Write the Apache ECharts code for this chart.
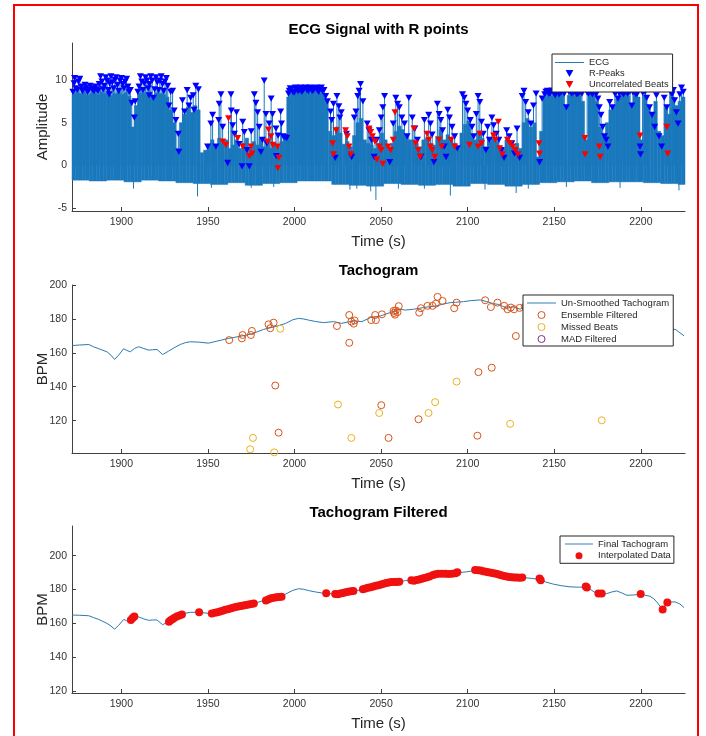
<!DOCTYPE html>
<html>
<head>
<meta charset="utf-8">
<script src="https://cdn.jsdelivr.net/npm/echarts@6/dist/echarts.min.js"></script>
<style>
  html, body { margin: 0; padding: 0; background: #fff; }
  #chart { width: 706px; height: 736px; }
</style>
</head>
<body>
<div id="chart"></div>
<script>
// tick labels
const xTicks = [1900, 1950, 2000, 2050, 2100, 2150, 2200]
const ampTicks = [-5, 0, 5, 10]
const bpmTicks = [120, 140, 160, 180, 200]

// ECG envelope: top of the dense trace per 2 s bin, starting at 1871.5 s
const ecgBinStart = 1871.5
const ecgBinWidth = 2
const ecgTop = [
  8.3, 8.5, 8.4, 8.6, 8.2, 8.4, 8.5, 8.3, 8.6, 8.4, 8.5, 8.2, 8.4, 8.6, 8.3, 8.5, 8.1,
  4.5, 7.0,
  8.4, 8.5, 8.3, 8.6, 8.2, 8.5, 8.4, 8.3, 8.0,
  6.5, 5.0, 2.0, 5.0, 6.0, 6.8, 6.2, 7.0, 6.5, 1.5, 1.8,
  2.5, 3.0, 2.2, 3.2, 2.6, 3.0, 2.0, 2.4, 3.0, 2.0, 2.6, 3.2, 2.0, 2.8, 2.4, 3.2, 2.2, 2.8, 2.0, 2.6, 2.2, 2.8,
  3.5, 8.0,
  8.6, 8.7, 8.8, 8.6, 8.7, 8.8, 8.6, 8.7, 8.5,
  8.3, 7.5, 4.0,
  3.5, 4.5, 3.8, 2.5, 2.8, 2.2, 3.5, 5.0, 5.5, 3.0,
  2.6, 2.4, 2.0, 2.6, 3.8, 3.0, 2.0, 2.6, 4.0, 4.6,
  4.2, 3.4, 3.0, 3.0, 2.6, 2.2, 3.0, 3.2, 2.6, 2.4,
  3.4, 4.2, 3.0, 3.6, 3.2, 2.6, 2.2, 3.8, 4.8, 5.2,
  3.6, 3.0, 4.0, 3.2, 2.2, 2.8, 3.2, 2.8, 2.2, 2.0,
  3.0, 2.6, 2.2, 2.6, 2.0, 5.0, 5.5, 4.5, 5.0, 1.0,
  4.0,
  8.0, 8.3, 8.2, 8.4, 8.2, 8.3, 7.0, 8.2, 8.4, 8.2,
  8.3, 7.5, 3.0, 8.3, 8.2, 7.5, 4.5, 3.5, 5.0, 6.5,
  7.0, 7.8, 8.2, 8.3, 8.1, 7.2, 8.2, 8.0, 3.0, 8.2,
  7.0, 6.0, 7.5, 4.0, 3.5, 7.0, 6.0, 8.0, 7.0, 7.5,
  8.0
]
// ECG trough per 10 s block
const ecgBottom = [
  -1.7, -1.8, -1.7, -1.9, -1.7, -1.8, -2.0, -2.1, -2.2, -2.0,
  -2.3, -2.1, -2.0, -1.8, -1.8, -2.2, -2.3, -2.4, -2.1, -2.2,
  -2.3, -2.2, -2.4, -2.1, -2.2, -2.4, -2.2, -2.0, -1.9, -1.8,
  -2.0, -1.9, -1.9, -2.0, -2.1, -2.2
]
// deeper downward swings of the ECG
const ecgDips = [
  [1907, -2.7], [1944, -3.6], [1952, -2.6], [1975, -2.6], [1988, -2.5], [2032, -2.8],
  [2036, -2.7], [2044, -3.0], [2047, -4.0], [2060, -2.7], [2075, -2.7], [2090, -3.5],
  [2110, -2.8], [2128, -3.2], [2135, -2.7], [2157, -2.5], [2188, -2.6], [2222, -2.9]
]

const rPeaks = [
  [1872, 8.6], [1872.7, 9.6], [1873, 10.2], [1873.7, 9.0], [1874.5, 8.8], [1875.2, 9.8], [1876, 10.1],
  [1876.8, 9.2], [1877.5, 8.7], [1878.2, 8.9], [1879, 9.4], [1879.8, 9.1], [1880.5, 8.6], [1881.2, 8.8],
  [1882, 9.3], [1882.8, 9.0], [1883.5, 8.8], [1884.2, 8.7], [1885, 9.2], [1885.8, 8.9], [1886.5, 8.7],
  [1887.2, 9.5], [1888, 10.4], [1888.8, 9.8], [1889.5, 8.9], [1890.2, 9.3], [1891, 10.3], [1891.8, 9.9],
  [1892.5, 8.8], [1893, 8.3], [1893.2, 9.6], [1894, 10.4], [1894.8, 9.7], [1895.5, 9.0], [1896.2, 10.0],
  [1897, 10.3], [1897.8, 9.4], [1898.5, 8.7], [1899.2, 9.9], [1900, 10.2], [1900.8, 9.5], [1901.5, 9.0],
  [1902.2, 9.8], [1903, 10.1], [1903.8, 9.2], [1904.5, 8.6], [1905.2, 8.8], [1906, 7.3], [1907.5, 5.6],
  [1908, 7.5], [1909.5, 8.6], [1910.2, 9.2], [1911, 10.4], [1911.8, 9.8], [1912.5, 8.8], [1913.2, 9.6],
  [1914, 10.3], [1914.8, 9.9], [1915.5, 9.0], [1916, 8.2], [1916.2, 9.5], [1917, 10.4], [1917.8, 9.9],
  [1918.5, 7.9], [1919.2, 8.9], [1920, 10.3], [1920.8, 9.7], [1921.5, 8.8], [1922.2, 9.9], [1923, 10.4],
  [1923.8, 9.5], [1924.5, 8.7], [1925.2, 9.8], [1926, 10.2], [1926.8, 9.3], [1927.5, 7.0], [1928.5, 8.6],
  [1929.6, 8.7], [1930.5, 6.4], [1931.5, 5.3], [1932.9, 3.7], [1933.2, 1.6], [1935.3, 7.6], [1936.5, 6.3],
  [1938, 8.8], [1939, 7.0], [1940, 7.9], [1941.5, 8.2], [1942, 6.5], [1943, 9.3], [1944.5, 8.9],
  [1949.8, 2.2], [1951.7, 4.9], [1952.7, 5.9], [1954.6, 2.2], [1956.2, 5.3], [1956.5, 7.2], [1957.5, 8.3],
  [1958.5, 4.5], [1961.4, 0.3], [1963.3, 8.3], [1963.5, 6.4], [1964.3, 4.7], [1965.3, 3.7], [1966.5, 6.2],
  [1968, 2.5], [1969.7, -0.1], [1970.1, 5.1], [1971, 3.9], [1972.5, 1.8], [1973.9, -0.1], [1975, 4.0],
  [1976.8, 8.3], [1977.7, 7.3], [1978.7, 6.2], [1979.6, 4.5], [1980.6, 1.6], [1981.5, 3.0], [1982.5, 9.9],
  [1983.5, 6.0], [1984, 2.6], [1985.4, 4.9], [1986.5, 7.8], [1987.3, 6.0], [1989.3, 4.3], [1989.5, 1.1],
  [1990.5, 3.5], [1992, 6.3], [1992.5, 4.9], [1993.5, 3.4], [1994.5, 3.3], [1995.5, 3.2],
  [1996.5, 8.4], [1997, 8.7], [1997.5, 9.0], [1998.2, 8.9], [1999, 8.6], [1999.8, 8.5], [2000.5, 9.1],
  [2001.2, 8.9], [2002, 8.7], [2002.8, 8.8], [2003.5, 9.1], [2004.2, 8.6], [2005, 8.8], [2005.8, 9.0],
  [2006.5, 9.1], [2007.2, 8.8], [2008, 8.7], [2008.8, 9.1], [2009.5, 9.0], [2010.2, 8.7], [2011, 8.8],
  [2011.8, 9.0], [2012.5, 9.1], [2013.2, 8.8], [2014, 8.6], [2014.8, 9.0], [2015.5, 9.1], [2016.2, 8.7],
  [2017, 8.8], [2018, 8.1], [2019, 7.5],
  [2020.8, 6.3], [2021.5, 5.3], [2022.5, 7.2], [2023.5, 0.9], [2024.5, 8.1], [2025.6, 6.9], [2026.2, 5.6],
  [2027, 6.2], [2030, 3.7], [2033, 1.0], [2034.5, 5.6], [2035.5, 6.3], [2036.5, 8.1], [2037.3, 8.7],
  [2038.1, 9.5], [2039.5, 7.5], [2042, 4.9], [2043, 4.1], [2044.5, 3.0], [2046, 1.0], [2047.5, 3.0],
  [2049, 4.1], [2050, 5.6], [2051, 6.8], [2052, 8.1], [2055, 0.4], [2057, 4.9], [2058.5, 7.9],
  [2059.5, 7.2], [2060.5, 6.8], [2062, 5.6], [2063.5, 4.9], [2065, 3.4], [2066, 7.9], [2068, 5.6],
  [2069.5, 4.3], [2071, 3.0], [2073, 1.0], [2075, 5.3], [2077.5, 5.9], [2078.5, 4.9], [2079.5, 3.6],
  [2080.5, 0.4], [2082.5, 7.2], [2083.5, 6.0], [2084.5, 5.3], [2085.5, 4.1], [2086.5, 2.2], [2087.5, 1.0],
  [2088.5, 6.5], [2089.5, 5.6], [2091, 4.5], [2092.5, 3.4], [2094, 2.0], [2097, 8.3], [2098, 7.9],
  [2099, 7.2], [2100, 6.4], [2101.5, 5.3], [2102.5, 4.5], [2103.5, 3.4], [2105, 6.0], [2106, 8.1],
  [2107, 7.4], [2108, 5.1], [2109, 3.7], [2110.5, 1.8], [2111.5, 4.5], [2112.5, 3.0], [2114, 5.6],
  [2115, 4.7], [2116.5, 3.7], [2118, 3.0], [2119.5, 1.8], [2121, 0.9], [2122.5, 4.1], [2124, 3.4],
  [2125.5, 2.6], [2127, 1.4], [2128.5, 4.3], [2130, 0.9], [2131.5, 8.1], [2132.5, 8.7], [2133.5, 7.4],
  [2135, 6.2], [2136.5, 4.9], [2138, 7.0], [2139.5, 8.4], [2141.5, 0.4], [2143, 7.8],
  [2144.5, 8.3], [2145.2, 8.6], [2146, 8.7], [2146.8, 8.4], [2147.5, 8.4], [2148.2, 8.7], [2149, 8.7],
  [2149.8, 8.5], [2150.5, 8.2], [2151.2, 8.6], [2152, 8.7], [2152.8, 8.3], [2153.5, 8.5], [2154.2, 8.6],
  [2155, 8.7], [2155.8, 8.4], [2157, 6.8], [2158.5, 8.6], [2159.2, 8.7], [2160, 8.4], [2160.8, 8.5],
  [2161.5, 8.7], [2162.2, 8.6], [2163, 8.3], [2163.8, 8.4], [2164.5, 8.6], [2165.2, 8.7], [2166, 8.4],
  [2169, 8.5], [2169.8, 8.4], [2170.5, 8.7], [2171.2, 8.6], [2172, 8.3], [2172.8, 8.7], [2173.5, 8.6],
  [2174.2, 8.3], [2175.2, 7.8], [2176, 6.8], [2177, 5.9], [2178, 4.5], [2179, 3.4], [2180, 3.0],
  [2181, 2.2], [2182, 7.4], [2183.5, 6.8], [2185, 8.4], [2185.8, 8.6], [2186.8, 7.8], [2187.5, 8.4],
  [2188.5, 8.6], [2189.2, 8.5], [2190, 8.3], [2190.8, 8.6], [2191.5, 8.7], [2192.2, 8.4], [2193, 8.5],
  [2193.8, 8.7], [2194.8, 7.0], [2195.5, 8.5], [2196.5, 8.6], [2197.2, 8.3], [2198, 8.4], [2199.5, 2.2],
  [2199.8, 1.3], [2201, 8.5], [2201.8, 8.7], [2202.5, 8.6], [2203.4, 7.9], [2205, 6.8], [2206.5, 5.9],
  [2208, 4.5], [2209, 8.2], [2210.5, 3.4], [2212, 2.2], [2213.5, 7.9], [2215, 6.8], [2216.7, 8.9],
  [2217.2, 8.6], [2218, 8.3], [2218.8, 8.8], [2219.5, 7.6], [2220.5, 6.2], [2221.5, 4.9], [2222.5, 8.3],
  [2223.5, 9.1], [2224.5, 8.6]
]

const uncorrelatedBeats = [
  [1958.5, 2.8], [1960.4, 2.4], [1961.9, 5.5], [1967.2, 3.2], [1970.1, 2.2], [1973.9, 1.1], [1974.9, 2.2],
  [1975.5, 1.4], [1984.4, 2.8], [1985, 4.2], [1986.4, 3.4], [1987.5, 2.4], [1990.2, 2.2], [1990.4, -0.3],
  [1991, 0.9],
  [2022, 2.6], [2022.5, 1.3], [2024, 4.1], [2029.5, 4.1], [2030.5, 3.4], [2031.5, 2.2], [2032.5, 1.3],
  [2043, 4.3], [2044, 3.9], [2045, 3.4], [2046.5, 2.8], [2047.5, 0.7], [2049, 2.2], [2050, 1.8],
  [2051, 0.2], [2054, 2.2], [2055.5, 1.8], [2057, 3.0], [2058, 6.2], [2069, 4.3], [2070, 2.6],
  [2071.5, 1.8], [2072.5, 1.0], [2076.5, 3.7], [2077.5, 3.0], [2078.5, 2.2], [2079.5, 1.8], [2081, 1.0],
  [2083.5, 3.0], [2085, 2.2], [2090.5, 3.0], [2092.5, 2.2], [2101, 2.4], [2106, 2.2], [2107, 3.7],
  [2108, 2.6], [2115, 3.5], [2116, 3.0], [2117.7, 5.1], [2118.5, 2.0], [2120, 1.3], [2123, 3.0],
  [2124.5, 2.6], [2126, 2.2], [2127.5, 1.8], [2129, 1.3], [2141.2, 2.6], [2141.5, 1.4],
  [2167.6, 3.2], [2167.8, 1.3], [2176, 2.2], [2176.5, 1.0], [2199.5, 3.5], [2215, 4.5], [2215.5, 1.4]
]

// tachogram (time s, BPM)
const tachogram = [
  [1871.6, 164.3], [1876, 164.6], [1881.2, 164.9], [1884, 163.5], [1887, 162.4], [1891.7, 160.6],
  [1894, 158.6], [1896.1, 156.1], [1898.5, 158.7], [1901.3, 162.4], [1903, 161.5], [1905.2, 160.6],
  [1907.5, 162.5], [1910, 163.6], [1913, 162.5], [1915.8, 161.6], [1918, 161.8], [1920.6, 162],
  [1923.8, 159], [1927.3, 161], [1930.5, 163], [1934, 164.9], [1937, 166], [1939.8, 166.5],
  [1944.6, 166.3], [1950.4, 165.7], [1955.2, 166.9], [1961.9, 168.5], [1969.6, 169.9], [1975.4, 171.2],
  [1982.1, 173.8], [1987.9, 175.2], [1994.6, 177.2], [1999, 179.5], [2002.3, 180.3], [2005, 180],
  [2008.1, 179.3], [2012, 178.5], [2016.7, 177.8], [2022.5, 178.4], [2027.3, 177.4], [2031, 178.2],
  [2035, 178.8], [2038.9, 178.4], [2043.7, 180.7], [2049.5, 181.7], [2052.3, 182.7], [2056, 184],
  [2061, 185.7], [2064, 185.2], [2068.7, 185.7], [2074.5, 186.7], [2078, 187.2], [2082.2, 187.7],
  [2086, 188.8], [2089.9, 189.6], [2093, 189.8], [2097.6, 190.2], [2102, 190.8], [2107.2, 191.2],
  [2111, 190.2], [2114.9, 189], [2118, 188.5], [2122.6, 186.3], [2126.4, 187.1], [2130.3, 185.7],
  [2132.2, 187.1], [2137, 186.5], [2141.8, 185.9], [2145, 184.5], [2149.5, 183.2], [2154, 182.3],
  [2159.1, 181.6], [2164, 181.4], [2168.8, 181.6], [2171, 180], [2174.5, 177.6], [2177, 177.3],
  [2180.3, 177.6], [2183, 178.5], [2186.1, 179.2], [2189, 178], [2191.9, 176.6], [2196, 176.8],
  [2199.5, 177.2], [2202, 176.8], [2205.3, 176], [2207.5, 174.5], [2209.2, 172.7], [2212.6, 168.2],
  [2215.3, 172.7], [2219.8, 173.9], [2225, 170]
]
const ensembleFiltered = [
  [1962.3, 167.5], [1969.6, 168.5], [1970, 170.5], [1974.8, 170.5], [1975.4, 172.9], [1985, 176.8],
  [1986, 174.5], [1987.9, 177.8], [1988.9, 140.7], [1990.8, 112.9], [2024.5, 175.8], [2031.6, 182.3],
  [2031.6, 165.9], [2032.8, 178.4], [2034.2, 177.2], [2034.7, 179.1], [2044.3, 179.3], [2046.6, 182.3],
  [2047, 179.3], [2050.1, 129.1], [2050.5, 182.7], [2054.3, 109.8], [2057.2, 184.7], [2057.5, 183.5],
  [2058, 182.5], [2058.5, 185], [2059.5, 184], [2060.2, 187.5], [2071.6, 120.8], [2072, 183.7],
  [2073, 186.3], [2076.8, 187.7], [2079.7, 187.7], [2081.6, 189], [2082.6, 193], [2085.5, 190.6],
  [2092.2, 186.3], [2093.6, 189.6], [2105.6, 111.1], [2106.2, 148.6], [2110.1, 191], [2113.4, 187],
  [2113.9, 151.2], [2117.2, 189.6], [2121.1, 187.7], [2123, 185.7], [2124.9, 186.7], [2126.8, 185.7],
  [2127.8, 169.9], [2130, 186.5], [2133, 187.2]
]
const missedBeats = [
  [1974.4, 103.1], [1976, 109.8], [1988.3, 101.3], [1991.8, 174.2], [2025.1, 129.5], [2032.8, 109.8],
  [2048.9, 124.5], [2077.4, 124.5], [2081.2, 130.9], [2093.6, 143], [2124.5, 118.1], [2177.4, 120.2]
]
const madFiltered = []

const finalTachogram = [
  [1871.6, 164.9], [1876, 164.8], [1881.2, 164.5], [1884, 163.4], [1887, 162.3], [1891.7, 160],
  [1894, 158.4], [1896.1, 156.6], [1898.5, 158.9], [1901.3, 162.3], [1903, 161.6], [1905.2, 161.2],
  [1907.5, 163], [1910, 163.8], [1913, 162.6], [1915.8, 161.8], [1918, 162], [1920.6, 162],
  [1923.8, 159.2], [1927.3, 161], [1930.5, 163.2], [1934, 165], [1937, 166], [1939.8, 166.5],
  [1944.6, 166.6], [1950.4, 165.9], [1955.2, 166.7], [1961.9, 168.5], [1969.6, 170.3], [1975.4, 171.4],
  [1982.1, 173.5], [1987.9, 175.2], [1994.6, 177.2], [1999, 179.5], [2002.3, 180.5], [2005, 180.2],
  [2008.1, 179.4], [2012, 178.6], [2016.7, 177.8], [2022.5, 177.4], [2027.3, 177.7], [2031, 178.7],
  [2035, 179.3], [2038.9, 179.8], [2043.7, 181.2], [2049.5, 182.6], [2056, 184.3], [2061, 184.6],
  [2064, 185.3], [2068.7, 185.6], [2074.5, 186.9], [2080.2, 189.1], [2086, 189.3], [2093.7, 189.9],
  [2099.5, 190.5], [2105.2, 191.5], [2110, 190.6], [2116.8, 189.1], [2121, 188], [2126.4, 187.1],
  [2132.2, 187.1], [2137, 186.6], [2141.8, 185.9], [2145, 184.5], [2149.5, 183.2], [2154, 182.3],
  [2159.1, 181.6], [2164, 181.4], [2168.8, 181.6], [2171, 180], [2174.5, 177.6], [2177, 177.3],
  [2180.3, 177.6], [2183, 178.5], [2186.1, 179.2], [2189, 178], [2191.9, 176.6], [2196, 176.8],
  [2199.5, 177.2], [2202, 176.8], [2205.3, 176], [2207.5, 174.5], [2209.2, 172.7], [2212.6, 168.2],
  [2215.3, 172.7], [2219.8, 172.7], [2222.5, 171.5], [2225, 169.3]
]
const interpolatedData = [
  [1905.5, 162], [1906.5, 163.2], [1907.5, 164],
  [1927.5, 161], [1928.5, 161.8], [1929.5, 162.5], [1930.5, 163.2], [1932, 164], [1933.5, 164.7], [1935, 165.3],
  [1944.9, 166.6],
  [1952.2, 165.8], [1954, 166.3], [1955.5, 166.6], [1957, 167], [1958.5, 167.5], [1960, 168], [1961.5, 168.4],
  [1963, 168.8], [1964.5, 169.2], [1966, 169.7], [1967.5, 170], [1969, 170.3], [1970.5, 170.6], [1972, 170.9],
  [1973.5, 171.1], [1975, 171.4], [1976.5, 171.8],
  [1983.5, 173.5], [1985, 174.2], [1986.5, 174.8], [1988, 175.2], [1989.5, 175.4], [1991, 175.6], [1992.5, 175.8],
  [2018.3, 177.8],
  [2023.5, 177.4], [2025, 177.2], [2026.5, 177.6], [2028, 178], [2029.5, 178.4], [2031, 178.7], [2032.5, 179],
  [2034, 179.2],
  [2039.5, 180.2], [2041, 180.6], [2042.5, 181], [2044, 181.4], [2045.5, 181.8], [2047, 182.2], [2048.5, 182.5],
  [2050, 183], [2051.5, 183.4], [2053, 183.9], [2054.5, 184.2], [2056, 184.4], [2057.5, 184.4], [2059, 184.5],
  [2060.5, 184.6],
  [2067.5, 185.5], [2069, 185.2], [2070.5, 185.7], [2072, 186], [2073.5, 186.4], [2075, 186.9], [2076.5, 187.3],
  [2078, 187.7],
  [2080, 188.6], [2081.5, 189.1], [2083, 189.3], [2085, 189.4], [2087, 189.3], [2089, 189.2], [2091, 189.4],
  [2093, 189.6], [2094, 190.2],
  [2104.3, 191.5], [2106, 191.4], [2107.5, 191.2], [2109, 190.8], [2110.5, 190.5], [2112, 190.2], [2113.5, 189.9],
  [2115, 189.6], [2116.5, 189.3], [2118, 188.9], [2119.5, 188.5], [2121, 188], [2122.5, 187.7], [2124, 187.5],
  [2125.5, 187.3], [2127, 187.2], [2128.5, 187.1], [2130, 187], [2131.5, 187.1],
  [2141.5, 186.5], [2142.2, 185.5],
  [2168.2, 181.8], [2168.8, 181.2],
  [2175.5, 177.6], [2177.4, 177.6],
  [2199.9, 177.4],
  [2212.6, 168.2], [2215.3, 172.3]
]

const font = 'Liberation Sans, Arial, Helvetica, sans-serif'
const axisColor = '#404040'
const ecgColor = '#1a78bc'
const tachoColor = '#2a7ab0'
const downTriangle = 'path://M0,0 L10,0 L5,9 Z'
const lineIcon = 'path://M0,0 L30,0 L30,1 L0,1 Z'
const thinRing = { borderWidth: 1 }

// ECG band: one bar per bin from trough to top of the trace
const ecgBand = ecgTop.map((hi, i) => {
  const t0 = ecgBinStart + i * ecgBinWidth
  return [t0, t0 + ecgBinWidth, ecgBottom[Math.floor(i / 5)], hi]
})
// ECG spikes up to every detected beat (and the deep dips)
const ecgSpikes = []
rPeaks.concat(uncorrelatedBeats, ecgDips).forEach(([t, v]) => {
  ecgSpikes.push([t, 0], [t, v], [t, '-'])
})

const xAxisBase = (gridIndex) => ({
  type: 'value',
  gridIndex,
  min: 1871.5,
  max: 2225.5,
  name: 'Time (s)',
  nameLocation: 'middle',
  nameGap: 23,
  nameMoveOverlap: false,
  nameTextStyle: { fontFamily: font, fontSize: 15, color: '#262626' },
  axisLine: { onZero: false, lineStyle: { color: axisColor } },
  axisTick: { inside: true, length: 4, customValues: xTicks, lineStyle: { color: axisColor } },
  axisLabel: {
    customValues: xTicks, margin: 6, fontFamily: font, fontSize: 10.5, color: '#333',
    formatter: (v) => String(v)
  },
  splitLine: { show: false }
})
const yAxisBase = (gridIndex, name, min, max, ticks) => ({
  type: 'value',
  gridIndex,
  min,
  max,
  name,
  nameLocation: 'middle',
  nameGap: 22,
  nameMoveOverlap: false,
  nameTextStyle: { fontFamily: font, fontSize: 15, color: '#262626' },
  axisLine: { show: true, onZero: false, lineStyle: { color: axisColor } },
  axisTick: { show: true, inside: true, length: 4, customValues: ticks, lineStyle: { color: axisColor } },
  axisLabel: {
    customValues: ticks, margin: 5, fontFamily: font, fontSize: 10.5, color: '#333',
    formatter: (v) => String(v)
  },
  splitLine: { show: false }
})
const legendBase = {
  orient: 'vertical',
  selectedMode: false,
  borderColor: '#262626',
  borderWidth: 1,
  borderRadius: 0,
  backgroundColor: '#fff',
  itemHeight: 7,
  textStyle: { fontFamily: font, color: '#262626' }
}

const myChart = echarts.init(document.getElementById('chart'))
myChart.setOption({
  animation: false,
  backgroundColor: '#fff',
  graphic: [{
    type: 'rect',
    shape: { x: 14, y: 5, width: 684, height: 745 },
    style: { fill: 'none', stroke: '#ff0000', lineWidth: 2 },
    z: 100
  }],
  title: [
    { text: 'ECG Signal with R points', left: 378.5, top: 22, textAlign: 'center', padding: 0 },
    { text: 'Tachogram', left: 378.5, top: 263, textAlign: 'center', padding: 0 },
    { text: 'Tachogram Filtered', left: 378.5, top: 505, textAlign: 'center', padding: 0 }
  ].map(t => ({ ...t, textStyle: { fontFamily: font, fontSize: 15, fontWeight: 'bold', color: '#000' } })),
  grid: [
    { left: 72, right: 21, top: 43, height: 168 },
    { left: 72, right: 21, top: 285, height: 168 },
    { left: 72, right: 21, top: 526, height: 167 }
  ],
  xAxis: [xAxisBase(0), xAxisBase(1), xAxisBase(2)],
  yAxis: [
    yAxisBase(0, 'Amplitude', -5.3, 14.3, ampTicks),
    yAxisBase(1, 'BPM', 100.9, 200, bpmTicks),
    yAxisBase(2, 'BPM', 118.8, 217.6, bpmTicks)
  ],
  legend: [
    {
      ...legendBase, left: 552, top: 54, padding: [4, 4, 3, 3], itemWidth: 29, itemGap: 2,
      textStyle: { ...legendBase.textStyle, fontSize: 9.3 },
      data: [{ name: 'ECG', icon: lineIcon }, 'R-Peaks', 'Uncorrelated Beats']
    },
    {
      ...legendBase, left: 523, top: 295, padding: [3, 4, 2, 4], itemWidth: 29, itemGap: 2,
      textStyle: { ...legendBase.textStyle, fontSize: 9.5 },
      data: [
        { name: 'Un-Smoothed Tachogram', icon: lineIcon },
        { name: 'Ensemble Filtered', itemStyle: thinRing },
        { name: 'Missed Beats', itemStyle: thinRing },
        { name: 'MAD Filtered', itemStyle: thinRing }
      ]
    },
    {
      ...legendBase, left: 560, top: 536, padding: [3, 3, 2.6, 5], itemWidth: 28, itemGap: 1.7,
      textStyle: { ...legendBase.textStyle, fontSize: 9.5 },
      data: [{ name: 'Final Tachogram', icon: lineIcon }, 'Interpolated Data']
    }
  ],
  series: [
    {
      name: 'ECG',
      type: 'line',
      xAxisIndex: 0,
      yAxisIndex: 0,
      data: ecgSpikes,
      showSymbol: false,
      symbol: 'none',
      connectNulls: false,
      lineStyle: { width: 1, color: ecgColor },
      itemStyle: { color: ecgColor },
      z: 2
    },
    {
      name: 'ECG band',
      type: 'custom',
      xAxisIndex: 0,
      yAxisIndex: 0,
      data: ecgBand,
      encode: { x: [0, 1], y: [2, 3] },
      renderItem: (params, api) => {
        const p0 = api.coord([api.value(0), api.value(3)])
        const p1 = api.coord([api.value(1), api.value(2)])
        return {
          type: 'rect',
          shape: { x: p0[0], y: p0[1], width: p1[0] - p0[0], height: p1[1] - p0[1] },
          style: { fill: ecgColor, stroke: ecgColor, lineWidth: 0.5 }
        }
      },
      z: 2
    },
    {
      name: 'R-Peaks',
      type: 'scatter',
      xAxisIndex: 0,
      yAxisIndex: 0,
      data: rPeaks,
      symbol: downTriangle,
      symbolSize: [7, 6.3],
      itemStyle: { color: '#0000ff', opacity: 1 },
      z: 3
    },
    {
      name: 'Uncorrelated Beats',
      type: 'scatter',
      xAxisIndex: 0,
      yAxisIndex: 0,
      data: uncorrelatedBeats,
      symbol: downTriangle,
      symbolSize: [7, 6.3],
      itemStyle: { color: '#ff0000', opacity: 1 },
      z: 4
    },
    {
      name: 'Un-Smoothed Tachogram',
      type: 'line',
      xAxisIndex: 1,
      yAxisIndex: 1,
      data: tachogram,
      showSymbol: false,
      symbol: 'none',
      lineStyle: { width: 1, color: tachoColor },
      itemStyle: { color: tachoColor },
      z: 2
    },
    {
      name: 'Ensemble Filtered',
      type: 'scatter',
      xAxisIndex: 1,
      yAxisIndex: 1,
      data: ensembleFiltered,
      symbol: 'circle',
      symbolSize: 7,
      itemStyle: { color: 'rgba(0,0,0,0)', borderColor: '#D95319', borderWidth: 1, opacity: 1 },
      z: 3
    },
    {
      name: 'Missed Beats',
      type: 'scatter',
      xAxisIndex: 1,
      yAxisIndex: 1,
      data: missedBeats,
      symbol: 'circle',
      symbolSize: 7,
      itemStyle: { color: 'rgba(0,0,0,0)', borderColor: '#EDB120', borderWidth: 1, opacity: 1 },
      z: 3
    },
    {
      name: 'MAD Filtered',
      type: 'scatter',
      xAxisIndex: 1,
      yAxisIndex: 1,
      data: madFiltered,
      symbol: 'circle',
      symbolSize: 7,
      itemStyle: { color: 'rgba(0,0,0,0)', borderColor: '#7E2F8E', borderWidth: 1, opacity: 1 },
      z: 3
    },
    {
      name: 'Final Tachogram',
      type: 'line',
      xAxisIndex: 2,
      yAxisIndex: 2,
      data: finalTachogram,
      showSymbol: false,
      symbol: 'none',
      lineStyle: { width: 1, color: tachoColor },
      itemStyle: { color: tachoColor },
      z: 2
    },
    {
      name: 'Interpolated Data',
      type: 'scatter',
      xAxisIndex: 2,
      yAxisIndex: 2,
      data: interpolatedData,
      symbol: 'circle',
      symbolSize: 8,
      itemStyle: { color: '#f01010', opacity: 1 },
      z: 3
    }
  ]
})
</script>
</body>
</html>
